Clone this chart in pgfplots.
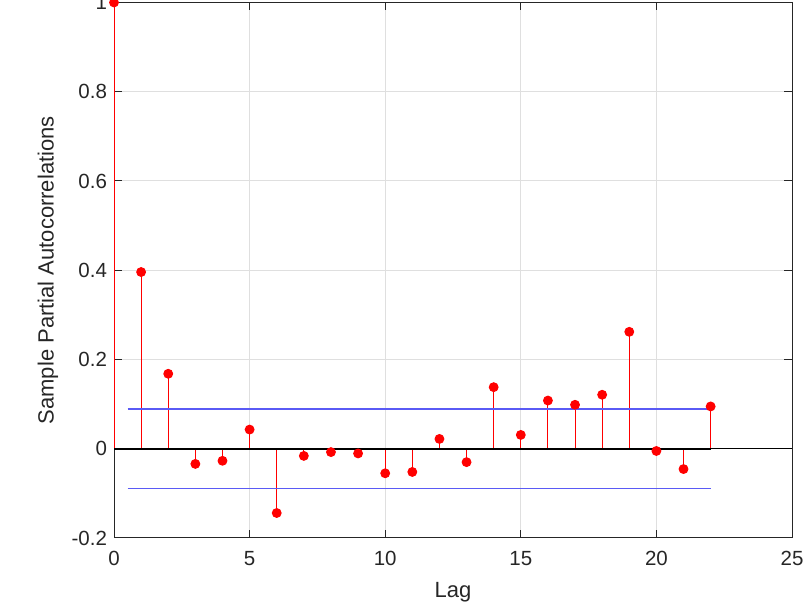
\documentclass[border=0pt]{standalone}
\usepackage{pgfplots}
\pgfplotsset{compat=1.18}
\usepackage{fontspec}
\setmainfont{Liberation Sans}
\definecolor{axgray}{RGB}{38,38,38}
\definecolor{bndblue}{RGB}{90,90,245}
\definecolor{gridgray}{RGB}{223,223,223}
\begin{document}
\begin{tikzpicture}
\begin{axis}[
  name=ax,
  scale only axis, width=339pt, height=267.75pt,
  xmin=0, xmax=25, ymin=-0.2, ymax=1,
  xtick={0,5,10,15,20,25}, xticklabels={0,5,10,15,20,25},
  ytick={-0.2,0,0.2,0.4,0.6,0.8,1}, yticklabels={-0.2,0,0.2,0.4,0.6,0.8,1},
  grid=major, major grid style={gridgray, line width=0.5pt},
  tick align=inside, major tick length=4pt,
  axis line style={axgray, line width=0.5pt},
  tick style={axgray, line width=0.5pt},
  ticklabel style={font=\fontsize{10.25}{12}\selectfont, text=axgray},
  xticklabel style={yshift=-3pt},
  label style={font=\fontsize{11}{13}\selectfont, text=axgray},
  xlabel={Lag}, ylabel={Sample Partial Autocorrelations},
  xlabel style={at={(rel axis cs:0.5,0)}, anchor=center, yshift=-27pt},
  ylabel style={at={(rel axis cs:0,0.5)}, anchor=center, yshift=33pt},
  clip=false,
]
\addplot[red, line width=0.5pt, ycomb, mark=*, mark size=2.2pt, mark options={fill=red, draw=red}] coordinates {
(0,1) (1,0.396) (2,0.168) (3,-0.034) (4,-0.027) (5,0.043) (6,-0.144) (7,-0.016)
(8,-0.0075) (9,-0.0105) (10,-0.055) (11,-0.052) (12,0.022) (13,-0.030) (14,0.138)
(15,0.031) (16,0.108) (17,0.0985) (18,0.121) (19,0.262) (20,-0.005) (21,-0.0455) (22,0.0948)
};
\addplot[black, line width=0.5pt] coordinates {(0,0) (25,0)};
\addplot[black, line width=1.1pt] coordinates {(0,0) (22,0)};
\addplot[bndblue, line width=0.75pt] coordinates {(0.5,0.0896) (22,0.0896)};
\addplot[bndblue, line width=0.75pt] coordinates {(0.5,-0.0896) (22,-0.0896)};
\end{axis}
\pgfresetboundingbox
\path[use as bounding box] ([xshift=-57pt,yshift=-35.35pt]ax.south west) rectangle ([xshift=349pt,yshift=269pt]ax.south west);
\end{tikzpicture}
\end{document}
